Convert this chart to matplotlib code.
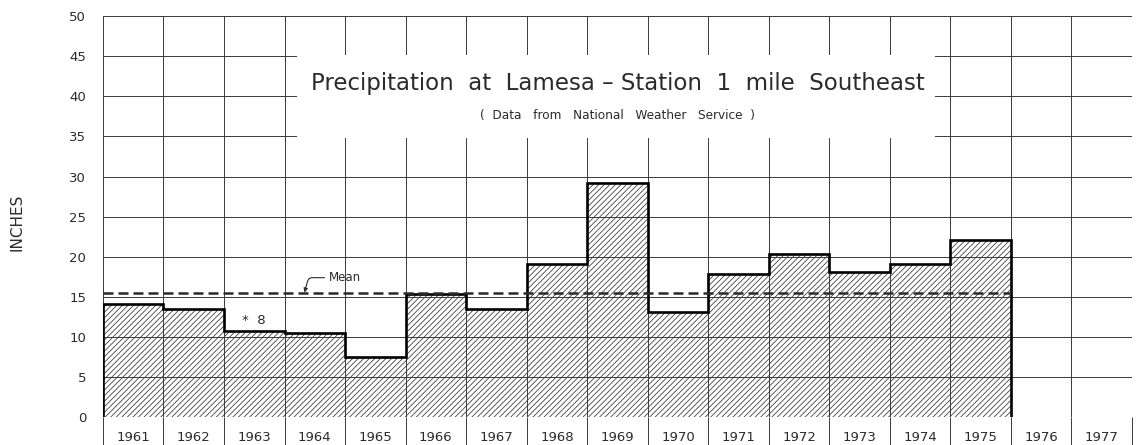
"""Precipitation at Lamesa, annual totals 1961-1977, drawn as a hatched step chart."""

import matplotlib
matplotlib.use("Agg")
import matplotlib.pyplot as plt
from matplotlib.patches import Rectangle

years = [1961, 1962, 1963, 1964, 1965, 1966, 1967, 1968, 1969, 1970,
         1971, 1972, 1973, 1974, 1975, 1976, 1977]
# annual precipitation (inches), 1961-1975; no data drawn for 1976/1977
precip = [14.1, 13.5, 10.7, 10.5, 7.55, 15.4, 13.45, 19.05, 29.2, 13.1,
          17.9, 20.4, 18.05, 19.05, 22.1]
mean_precip = 15.45
y_ticks = [0, 5, 10, 15, 20, 25, 30, 35, 40, 45, 50]

INK = "#2b2b2b"
GRID = "#3a3a3a"

plt.rcParams["font.family"] = ["DejaVu Sans"]
plt.rcParams["hatch.linewidth"] = 0.55

fig = plt.figure(figsize=(11.39, 4.45), dpi=100)
ax = fig.add_axes([0.0904, 0.0622, 0.9034, 0.9018])

n_cols = len(years)
edges = list(range(len(precip) + 1))

# hatched fill, then heavy outline on top
ax.stairs(precip, edges, baseline=0, fill=True, facecolor="white",
          edgecolor="#333333", hatch="//////", linewidth=0, zorder=1)
ax.stairs(precip, edges, baseline=0, fill=False, color="black",
          linewidth=1.9, zorder=3.5)

# grid drawn by hand so the title box can sit on top of it
for y in y_ticks:
    ax.axhline(y, color=GRID, linewidth=0.7, zorder=2.5)
for x in range(n_cols + 1):
    ax.axvline(x, color=GRID, linewidth=0.7, zorder=2.5)

# mean line
ax.hlines(mean_precip, 0, len(precip), colors=INK, linewidth=1.8,
          linestyles=(0, (4, 2)), zorder=3.6)
ax.annotate("Mean", xy=(3.33, mean_precip + 0.1), xytext=(3.73, 17.4),
            fontsize=8.5, color=INK, va="center", ha="left", zorder=4,
            arrowprops=dict(arrowstyle="-|>", color=INK, lw=0.8,
                            mutation_scale=6,
                            connectionstyle="angle,angleA=0,angleB=75,rad=4",
                            shrinkA=1, shrinkB=0))

ax.text(2.3, 12.1, "*  8", fontsize=9.5, color=INK, va="center", ha="left",
        zorder=4)

# title box
ax.add_patch(Rectangle((3.2, 34.8), 10.55, 10.4, facecolor="white",
                       edgecolor="none", zorder=3))
ax.text(8.5, 41.6, "Precipitation  at  Lamesa \u2013 Station  1  mile  Southeast",
        fontsize=16.5, color=INK, ha="center", va="center", zorder=4)
ax.text(8.5, 37.6, "(  Data   from   National   Weather   Service  )",
        fontsize=8.7, color=INK, ha="center", va="center", zorder=4)

ax.set_xlim(0, n_cols)
ax.set_ylim(0, 50)

ax.set_yticks(y_ticks)
ax.tick_params(axis="y", length=0, pad=12, labelsize=9.5, labelcolor=INK)

# year labels centred in each column, tick marks on the column edges
ax.set_xticks([i + 0.5 for i in range(n_cols)])
ax.set_xticklabels([str(y) for y in years])
ax.tick_params(axis="x", which="major", length=0, pad=10, labelsize=9.5,
               labelcolor=INK)
ax.set_xticks(range(n_cols + 1), minor=True)
ax.tick_params(axis="x", which="minor", length=25, width=0.7, color=GRID)

for side in ax.spines.values():
    side.set_visible(False)

fig.text(0.015, 0.5, "INCHES", rotation=90, fontsize=11, color=INK,
         ha="center", va="center")

fig.savefig("out.png", dpi=100, facecolor="white")
